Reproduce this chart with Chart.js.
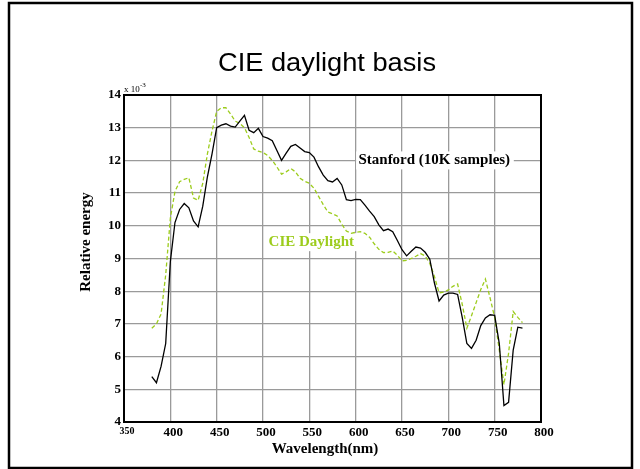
<!DOCTYPE html>
<html><head><meta charset="utf-8">
<script src="https://cdn.jsdelivr.net/npm/chart.js@4/dist/chart.umd.min.js"></script>
<style>html,body{margin:0;padding:0;background:#fff;overflow:hidden;}#wrap{width:640px;height:469px;position:relative;}</style>
</head><body><div id="wrap"><canvas id="c" width="640" height="469"></canvas></div>
<script>
// wavelength (nm)
const wavelengths = [380,385,390,395,400,405,410,415,420,425,430,435,440,445,450,455,460,465,470,475,480,485,490,495,500,505,510,515,520,525,530,535,540,545,550,555,560,565,570,575,580,585,590,595,600,605,610,615,620,625,630,635,640,645,650,655,660,665,670,675,680,685,690,695,700,705,710,715,720,725,730,735,740,745,750,755,760,765,770,775,780];
// relative energy (x 10^-3)
const stanford = [5.39,5.2,5.7,6.4,8.9,10.1,10.5,10.68,10.55,10.15,9.97,10.6,11.5,12.2,13.0,13.08,13.12,13.05,13.02,13.2,13.38,12.92,12.85,12.98,12.73,12.68,12.6,12.3,12.0,12.22,12.43,12.49,12.38,12.27,12.24,12.1,11.8,11.55,11.38,11.34,11.45,11.25,10.8,10.77,10.81,10.8,10.63,10.45,10.28,10.03,9.85,9.9,9.82,9.55,9.27,9.08,9.22,9.35,9.32,9.19,8.98,8.25,7.7,7.88,7.94,7.94,7.9,7.2,6.4,6.25,6.5,6.95,7.18,7.28,7.26,6.4,4.5,4.6,6.2,6.9,6.87];
const cieDaylight = [6.87,7.0,7.3,8.5,10.23,11.05,11.35,11.42,11.47,10.85,10.78,11.3,12.2,12.9,13.5,13.61,13.61,13.42,13.2,13.13,13.0,12.7,12.35,12.28,12.24,12.15,12.0,11.8,11.58,11.65,11.75,11.65,11.45,11.36,11.3,11.15,10.9,10.65,10.42,10.37,10.3,10.05,9.84,9.77,9.8,9.82,9.77,9.65,9.45,9.28,9.18,9.19,9.23,9.1,8.93,8.94,9.0,9.07,9.15,9.08,8.85,8.45,7.95,7.97,8.04,8.15,8.22,7.6,6.87,7.25,7.65,8.05,8.37,7.8,7.2,6.2,5.14,6.1,7.38,7.2,7.04];
const xTickValues = [350,400,450,500,550,600,650,700,750,800];
const yTickValues = [4,5,6,7,8,9,10,11,12,13,14];
const titleText = 'CIE daylight basis';
const xTitle = 'Wavelength(nm)';
const yTitle = 'Relative energy';
const stanfordLabel = 'Stanford (10K samples)';
const cieLabel = 'CIE Daylight';

const GREEN = '#9ccc1c';
const SERIF = '"Liberation Serif", "Times New Roman", serif';

const decor = {
  id: 'decor',
  beforeDatasetsDraw(chart) {
    const ctx = chart.ctx;
    const xs = chart.scales.x, ys = chart.scales.y;
    ctx.save();
    ctx.font = 'bold 15px ' + SERIF;
    ctx.textBaseline = 'middle';
    const sy = ys.getPixelForValue(12.0);
    let w = ctx.measureText(stanfordLabel).width;
    ctx.fillStyle = '#fff';
    ctx.fillRect(xs.getPixelForValue(600.5), sy - 9, w + 6, 18);
    ctx.fillStyle = '#000';
    ctx.fillText(stanfordLabel, xs.getPixelForValue(603), sy);
    const cy = ys.getPixelForValue(9.5);
    w = ctx.measureText(cieLabel).width;
    ctx.fillStyle = '#fff';
    ctx.fillRect(xs.getPixelForValue(503.5), cy - 9, w + 6, 18);
    ctx.fillStyle = GREEN;
    ctx.fillText(cieLabel, xs.getPixelForValue(506), cy);
    ctx.restore();
  },
  afterDraw(chart) {
    const ctx = chart.ctx;
    const a = chart.chartArea;
    ctx.save();
    ctx.strokeStyle = '#000';
    ctx.lineWidth = 2;
    ctx.strokeRect(a.left, a.top, a.right - a.left, a.bottom - a.top);
    ctx.lineWidth = 2.5;
    ctx.strokeRect(9, 3, 623, 465);
    ctx.fillStyle = '#000';
    // title (slightly widened like the reference)
    ctx.save();
    ctx.translate(327, 71);
    ctx.scale(1.09, 1);
    ctx.font = '25px "Liberation Sans", Arial, sans-serif';
    ctx.textAlign = 'center';
    ctx.textBaseline = 'alphabetic';
    ctx.fillText(titleText, 0, 0);
    ctx.restore();
    // axis titles
    ctx.font = 'bold 15px ' + SERIF;
    ctx.textAlign = 'center';
    ctx.textBaseline = 'middle';
    ctx.fillText(xTitle, 325, 449);
    ctx.save();
    ctx.translate(86, 242);
    ctx.rotate(-Math.PI / 2);
    ctx.fillText(yTitle, 0, 0);
    ctx.restore();
    // exponent label
    ctx.textAlign = 'left';
    ctx.textBaseline = 'alphabetic';
    ctx.font = '9px ' + SERIF;
    ctx.fillText('x 10', a.left, a.top - 3);
    ctx.font = '7px ' + SERIF;
    ctx.fillText('-3', a.left + 16, a.top - 8);
    ctx.restore();
  }
};

new Chart(document.getElementById('c'), {
  type: 'line',
  data: {
    datasets: [
      {
        label: stanfordLabel,
        data: wavelengths.map((w, i) => ({x: w, y: stanford[i]})),
        borderColor: '#000',
        borderWidth: 1.3,
        pointRadius: 0,
        tension: 0,
        fill: false
      },
      {
        label: cieLabel,
        data: wavelengths.map((w, i) => ({x: w, y: cieDaylight[i]})),
        borderColor: GREEN,
        borderWidth: 1.3,
        borderDash: [4, 2.5],
        pointRadius: 0,
        tension: 0,
        fill: false
      }
    ]
  },
  options: {
    responsive: false,
    animation: false,
    devicePixelRatio: 1,
    layout: {padding: {left: 0, right: 99, top: 95, bottom: 0}},
    plugins: {legend: {display: false}, tooltip: {enabled: false}, title: {display: false}},
    scales: {
      x: {
        type: 'linear',
        min: 350, max: 800,
        afterBuildTicks: s => { s.ticks = xTickValues.map(v => ({value: v})); },
        afterFit: s => { s.height = 47; },
        grid: {color: '#9a9a9a', lineWidth: 1.3, drawTicks: false},
        border: {display: true, color: '#000', width: 2},
        ticks: {
          color: '#000', padding: 3, labelOffset: 3, maxRotation: 0, autoSkip: false,
          font: c => (c.index === 0 ? {family: SERIF, size: 10, weight: 'bold'} : {family: SERIF, size: 13, weight: 'bold'})
        },
        title: {display: false}
      },
      y: {
        min: 4, max: 14,
        afterBuildTicks: s => { s.ticks = yTickValues.map(v => ({value: v})); },
        afterFit: s => { s.width = 124; },
        grid: {color: '#9a9a9a', lineWidth: 1.3, drawTicks: false},
        border: {display: true, color: '#000', width: 2},
        ticks: {color: '#000', padding: 3, autoSkip: false, font: {family: SERIF, size: 13, weight: 'bold'}},
        title: {display: false}
      }
    }
  },
  plugins: [decor]
});
</script>
</body></html>
